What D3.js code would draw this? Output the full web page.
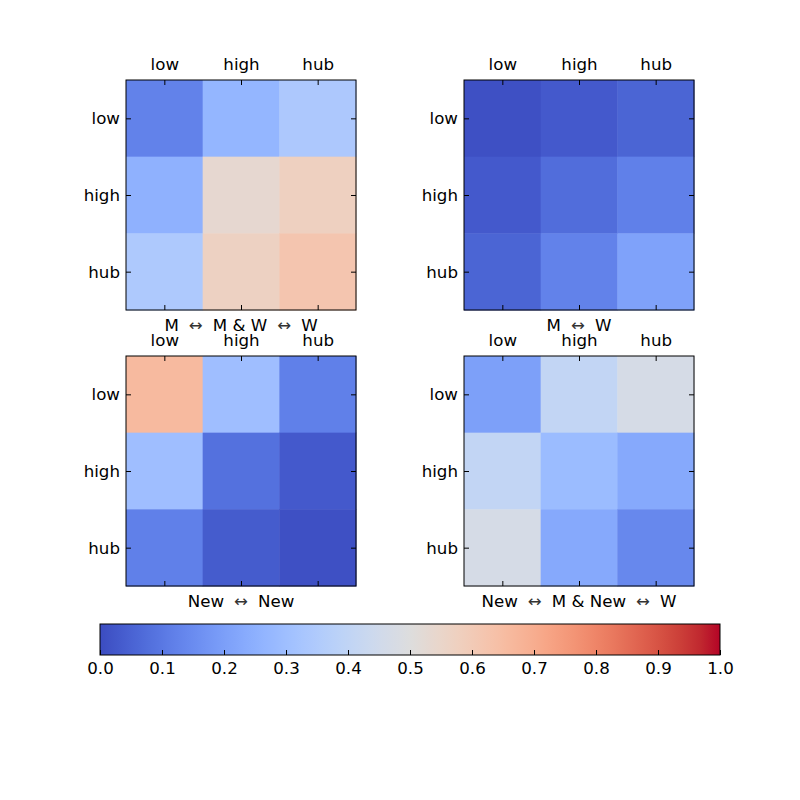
<!DOCTYPE html>
<html>
<head>
<meta charset="utf-8">
<script src="https://cdn.jsdelivr.net/npm/d3@7"></script>
<style>
  body { margin: 0; background: #fff; }
  svg { display: block; font-family: "DejaVu Sans", sans-serif; }
</style>
</head>
<body>
<svg id="chart" width="800" height="800"></svg>
<script>
// ---- data ----
const categories = ["low", "high", "hub"];
const panelTitles = [
  ["M", "M & W", "W"],
  ["M", "W"],
  ["New", "New"],
  ["New", "M & New", "W"]
];
// rows = low, high, hub (top to bottom); cols = low, high, hub
const valuesMMW = [
  [0.125, 0.27, 0.34],
  [0.255, 0.535, 0.575],
  [0.345, 0.57, 0.62]
];
const valuesMW = [
  [0.01, 0.03, 0.055],
  [0.03, 0.075, 0.12],
  [0.055, 0.125, 0.21]
];
const valuesNewNew = [
  [0.66, 0.30, 0.12],
  [0.30, 0.085, 0.03],
  [0.12, 0.035, 0.01]
];
const valuesMixed = [
  [0.205, 0.405, 0.47],
  [0.405, 0.29, 0.23],
  [0.47, 0.23, 0.14]
];
const colorbarTicks = [0, 0.1, 0.2, 0.3, 0.4, 0.5, 0.6, 0.7, 0.8, 0.9, 1.0];

// coolwarm colormap (Moreland) anchor colours
const coolwarm = [
  [59,76,192],[68,90,204],[77,104,215],[87,117,225],[98,130,234],[108,142,241],
  [119,154,247],[130,165,251],[141,176,254],[152,185,255],[163,194,255],[174,201,253],
  [184,208,249],[194,213,244],[204,217,238],[213,219,230],[221,221,221],[229,216,209],
  [236,211,197],[241,204,185],[245,196,173],[247,187,160],[247,177,148],[247,166,135],
  [244,154,123],[241,141,111],[236,127,99],[229,112,88],[222,96,77],[213,80,66],
  [203,62,56],[192,40,47],[180,4,38]
];

const color = d3.scaleLinear()
  .domain(coolwarm.map((_, i) => i / (coolwarm.length - 1)))
  .range(coolwarm.map(c => `rgb(${c[0]},${c[1]},${c[2]})`))
  .interpolate(d3.interpolateRgb)
  .clamp(true);

const svg = d3.select("#chart");
const FS = 16.67;

const panels = [
  { data: valuesMMW, title: panelTitles[0], x: 126, y: 80 },
  { data: valuesMW, title: panelTitles[1], x: 464, y: 80 },
  { data: valuesNewNew, title: panelTitles[2], x: 126, y: 356 },
  { data: valuesMixed, title: panelTitles[3], x: 464, y: 356 }
];
const size = 230;

panels.forEach(p => {
  const g = svg.append("g").attr("transform", `translate(${p.x},${p.y})`);
  const x = d3.scaleBand().domain(categories).range([0, size]);
  const y = d3.scaleBand().domain(categories).range([0, size]);

  const cells = [];
  p.data.forEach((row, ri) => row.forEach((v, ci) => cells.push({ r: categories[ri], c: categories[ci], v })));

  g.selectAll("rect.cell").data(cells).join("rect")
    .attr("class", "cell")
    .attr("x", d => x(d.c))
    .attr("y", d => y(d.r))
    .attr("width", x.bandwidth() + 0.5)
    .attr("height", y.bandwidth() + 0.5)
    .attr("fill", d => color(d.v));

  const xp = d3.scalePoint().domain(categories).range([0, size]).padding(0.5);
  const yp = d3.scalePoint().domain(categories).range([0, size]).padding(0.5);

  const top = g.append("g").call(d3.axisTop(xp).tickSizeInner(-5).tickSizeOuter(0).tickPadding(10));
  const left = g.append("g").call(d3.axisLeft(yp).tickSizeInner(-5).tickSizeOuter(0).tickPadding(6));
  const right = g.append("g").attr("transform", `translate(${size},0)`)
    .call(d3.axisRight(yp).tickSizeInner(-5).tickSizeOuter(0).tickFormat(""));
  const bottom = g.append("g").attr("transform", `translate(0,${size})`)
    .call(d3.axisBottom(xp).tickSizeInner(-5).tickSizeOuter(0).tickFormat(""));

  [top, left, right, bottom].forEach(a => {
    a.select(".domain").remove();
    a.selectAll("line").attr("stroke", "#000");
    a.selectAll("text").attr("font-size", FS).attr("font-family", "DejaVu Sans").attr("fill", "#000");
  });

  g.append("rect").attr("x", 0).attr("y", 0).attr("width", size).attr("height", size)
    .attr("fill", "none").attr("stroke", "#000").attr("stroke-width", 1);

  // xlabel
  const t = g.append("text")
    .attr("x", size / 2).attr("y", size + 21)
    .attr("text-anchor", "middle")
    .attr("font-size", FS).attr("fill", "#000");
  p.title.forEach((part, i) => {
    if (i > 0) {
      t.append("tspan").attr("dx", 10).attr("fill", "#333").text("\u2194");
      t.append("tspan").attr("dx", 10).text(part);
    } else {
      t.append("tspan").text(part);
    }
  });
});

// ---- colorbar ----
const cb = { x: 100, y: 624, w: 620, h: 31 };
const defs = svg.append("defs");
const grad = defs.append("linearGradient").attr("id", "cw").attr("x1", "0%").attr("x2", "100%").attr("y1", "0%").attr("y2", "0%");
d3.range(0, 1.0001, 1 / 64).forEach(t => {
  grad.append("stop").attr("offset", `${t * 100}%`).attr("stop-color", color(t));
});
const cbScale = d3.scaleLinear().domain([0, 1]).range([cb.x, cb.x + cb.w]);
svg.append("rect").attr("x", cb.x).attr("y", cb.y).attr("width", cb.w).attr("height", cb.h)
  .attr("fill", "url(#cw)").attr("stroke", "#000").attr("stroke-width", 1);
const cbAxis = svg.append("g").attr("transform", `translate(0,${cb.y + cb.h})`)
  .call(d3.axisBottom(cbScale).tickValues(colorbarTicks).tickFormat(d3.format(".1f"))
    .tickSizeInner(-5).tickSizeOuter(0).tickPadding(7));
cbAxis.select(".domain").remove();
cbAxis.selectAll("line").attr("stroke", "#000");
cbAxis.selectAll("text").attr("font-size", FS).attr("font-family", "DejaVu Sans").attr("fill", "#000");
</script>
</body>
</html>
